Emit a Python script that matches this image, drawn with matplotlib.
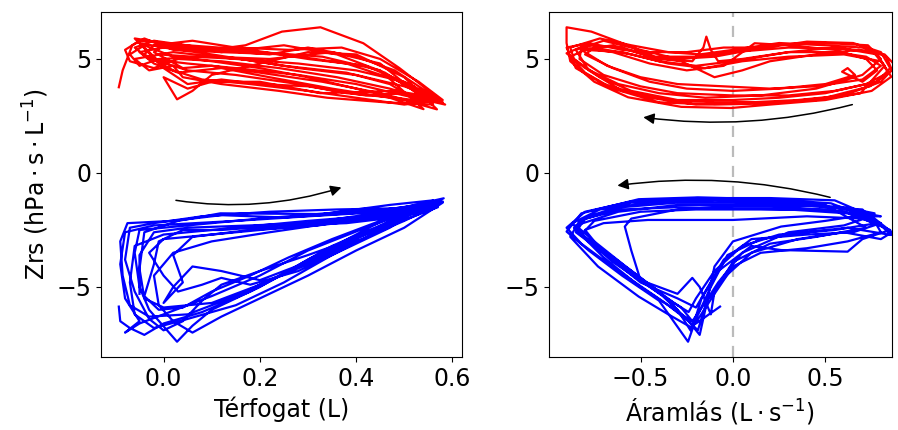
import matplotlib
matplotlib.use("Agg")
import matplotlib.pyplot as plt
import numpy as np

# ---- data (each breath = list of (x, Zrs)) ----
vol_red = [
    [(-0.093,3.76),(-0.085,4.5),(-0.065,5.6),(-0.04,5.9),(0.02,5.4),(0.12,5.3),(0.25,5.2),(0.38,4.8),(0.48,4.1),(0.585,3.0),(0.50,3.4),(0.40,3.9),(0.28,4.3),(0.15,4.6),(0.05,4.8),(-0.03,5.0)],
    [(-0.03,5.0),(-0.06,5.5),(-0.02,5.8),(0.08,5.5),(0.2,5.3),(0.33,5.1),(0.45,4.5),(0.54,2.8),(0.47,3.3),(0.35,3.7),(0.22,4.2),(0.12,4.6),(0.03,4.4),(-0.02,4.8)],
    [(-0.02,4.8),(-0.05,5.3),(0.0,5.5),(0.1,5.4),(0.17,5.6),(0.246,6.2),(0.326,6.39),(0.415,5.69),(0.49,4.6),(0.57,3.3),(0.48,3.6),(0.326,3.5),(0.2,4.0),(0.1,4.0),(0.05,3.7),(0.0,4.2)],
    [(0.0,4.2),(0.028,3.23),(0.06,3.6),(0.1,4.3),(0.2,4.8),(0.3,5.3),(0.4,5.2),(0.5,4.2),(0.568,2.79),(0.5,3.2),(0.4,3.7),(0.3,4.2),(0.2,4.6),(0.1,4.9),(0.02,5.1),(-0.04,5.6)],
    [(-0.04,5.6),(-0.07,5.2),(-0.05,4.7),(-0.01,5.0),(0.1,5.1),(0.22,5.0),(0.35,5.3),(0.45,4.8),(0.52,3.6),(0.56,3.1),(0.48,3.3),(0.38,3.5),(0.28,3.9),(0.15,4.3),(0.05,4.5),(-0.01,4.9)],
    [(-0.01,4.9),(-0.05,5.7),(0.0,5.5),(0.1,5.2),(0.25,4.7),(0.38,4.4),(0.47,3.9),(0.54,3.0),(0.45,3.5),(0.33,4.0),(0.2,4.4),(0.1,4.7),(0.04,4.6),(-0.02,5.3)],
    [(-0.02,5.3),(0.0,5.6),(0.1,5.4),(0.22,5.2),(0.3,5.5),(0.4,5.1),(0.48,4.5),(0.58,3.1),(0.5,3.5),(0.42,3.4),(0.3,3.8),(0.2,3.9),(0.12,4.1),(0.05,3.9),(0.0,4.6)],
    [(0.0,4.6),(-0.06,5.9),(0.0,5.7),(0.12,5.3),(0.25,5.6),(0.36,5.2),(0.46,4.4),(0.55,3.2),(0.47,3.7),(0.36,4.2),(0.24,4.6),(0.12,4.9),(0.03,5.0)],
    [(0.03,5.0),(-0.02,4.6),(-0.07,4.9),(-0.08,5.4),(-0.05,5.8),(0.05,5.6),(0.18,5.4),(0.3,5.0),(0.42,4.7),(0.52,3.8),(0.56,3.0),(0.46,3.1),(0.34,3.3),(0.24,3.6),(0.12,3.9),(0.04,4.2)],
    [(0.04,4.2),(0.02,4.7),(-0.03,4.5),(-0.06,5.0),(0.02,5.3),(0.15,5.0),(0.28,4.8),(0.4,4.5),(0.5,4.0),(0.575,3.2),(0.5,3.0),(0.4,3.3),(0.3,3.6),(0.18,3.9),(0.08,4.1),(0.02,4.5)],
    [(0.02,4.5),(-0.04,5.2),(-0.02,5.6),(0.06,5.8),(0.15,5.5),(0.26,5.4),(0.37,5.5),(0.45,5.0),(0.53,4.0),(0.58,3.2),(0.5,3.8),(0.4,4.3),(0.28,4.6),(0.16,5.0),(0.06,5.1),(-0.01,5.2)],
]

vol_blue = [
    [(-0.093,-5.86),(-0.09,-6.5),(-0.07,-6.8),(-0.04,-7.1),(0.0,-6.6),(0.08,-6.1),(0.18,-5.2),(0.28,-4.1),(0.38,-3.0),(0.47,-2.2),(0.582,-1.11),(0.5,-1.5),(0.4,-1.75),(0.25,-1.95),(0.12,-1.85),(0.02,-2.1),(-0.075,-2.2),(-0.09,-3.0),(-0.085,-4.5),(-0.07,-5.8)],
    [(-0.07,-5.8),(-0.03,-6.3),(0.05,-6.2),(0.15,-5.4),(0.25,-4.4),(0.35,-3.2),(0.45,-2.3),(0.55,-1.5),(0.45,-1.6),(0.35,-1.75),(0.2,-2.0),(0.05,-2.3),(-0.05,-2.5),(-0.06,-3.5),(-0.05,-5.0),(-0.03,-6.0)],
    [(-0.03,-6.0),(0.028,-7.4),(0.06,-6.7),(0.1,-6.0),(0.2,-5.0),(0.3,-3.8),(0.4,-2.7),(0.48,-1.8),(0.56,-1.2),(0.47,-1.4),(0.33,-1.8),(0.118,-1.77),(0.03,-2.1),(-0.04,-2.6),(-0.05,-4.2),(-0.04,-5.5)],
    [(-0.04,-5.5),(0.0,-5.9),(0.1,-5.7),(0.2,-4.9),(0.3,-4.0),(0.4,-3.0),(0.5,-2.1),(0.57,-1.4),(0.5,-1.7),(0.4,-2.0),(0.25,-2.4),(0.1,-2.7),(0.0,-2.9),(-0.03,-3.5),(0.0,-4.5),(0.03,-5.2)],
    [(0.03,-5.2),(0.08,-4.9),(0.12,-4.6),(0.18,-4.9),(0.28,-4.3),(0.38,-3.3),(0.47,-2.4),(0.53,-1.6),(0.45,-1.9),(0.35,-2.2),(0.22,-2.6),(0.1,-3.0),(0.02,-3.5),(-0.02,-4.5),(-0.01,-5.8),(0.02,-6.5)],
    [(0.02,-6.5),(0.06,-7.0),(0.12,-6.3),(0.2,-5.5),(0.3,-4.5),(0.4,-3.4),(0.5,-2.4),(0.58,-1.3),(0.52,-1.6),(0.42,-1.9),(0.3,-2.1),(0.15,-2.4),(0.0,-2.7),(-0.06,-3.2),(-0.07,-4.8),(-0.06,-6.2)],
    [(-0.06,-6.2),(-0.02,-6.8),(0.05,-6.4),(0.15,-5.8),(0.25,-4.8),(0.35,-3.6),(0.45,-2.5),(0.52,-1.7),(0.44,-2.0),(0.32,-2.3),(0.18,-2.5),(0.06,-2.8),(0.02,-3.6),(0.04,-4.8),(0.0,-5.7)],
    [(0.0,-5.7),(0.02,-5.0),(0.06,-4.1),(0.12,-4.3),(0.2,-4.7),(0.3,-3.9),(0.4,-2.9),(0.48,-2.0),(0.55,-1.4),(0.46,-1.7),(0.3,-1.9),(0.15,-2.1),(-0.02,-2.3),(-0.08,-2.6),(-0.09,-4.0),(-0.08,-5.5),(-0.05,-6.5)],
    [(-0.05,-6.5),(-0.08,-7.0),(-0.05,-6.6),(0.0,-6.2),(0.1,-5.4),(0.2,-4.5),(0.3,-3.4),(0.42,-2.4),(0.5,-1.8),(0.58,-1.25),(0.48,-1.55),(0.36,-1.6),(0.22,-1.7),(0.08,-1.9),(-0.02,-2.2),(-0.07,-2.4),(-0.08,-3.8),(-0.06,-5.2),(-0.03,-6.4)],
    [(-0.03,-6.4),(0.0,-6.9),(0.04,-6.5),(0.08,-5.6),(0.12,-4.9),(0.2,-4.3),(0.3,-3.6),(0.42,-2.7),(0.52,-1.9),(0.57,-1.5),(0.5,-1.9),(0.38,-2.2),(0.25,-2.3),(0.12,-2.5),(0.04,-2.5),(-0.01,-3.0),(-0.02,-4.0),(-0.04,-5.4)],
    [(-0.04,-5.4),(-0.01,-6.0),(0.04,-5.9),(0.1,-5.2),(0.18,-4.5),(0.26,-3.7),(0.35,-2.9),(0.45,-2.1),(0.54,-1.5),(0.43,-1.8),(0.3,-2.2),(0.18,-2.3),(0.05,-2.4),(-0.02,-2.6),(-0.05,-3.6),(-0.05,-4.6),(-0.05,-5.3)],
]

flow_red = [
    [(0.0,5.3),(0.3,5.5),(0.6,5.45),(0.78,5.2),(0.856,4.22),(0.75,3.6),(0.5,3.2),(0.2,3.0),(-0.01,2.85),(-0.28,2.9),(-0.567,3.32),(-0.75,4.0),(-0.88,4.9),(-0.9,5.7),(-0.9,6.39),(-0.766,6.2),(-0.6,5.7),(-0.42,5.1),(-0.2,5.1),(0.0,5.3)],
    [(0.0,5.3),(0.2,5.6),(0.5,5.7),(0.73,5.6),(0.8,5.0),(0.7,4.3),(0.45,3.7),(0.15,3.4),(-0.15,3.3),(-0.4,3.5),(-0.62,3.9),(-0.8,4.6),(-0.9,5.25),(-0.8,5.6),(-0.6,5.5),(-0.4,5.0),(-0.22,4.9),(-0.16,5.5),(-0.144,5.98),(-0.12,5.4),(-0.08,4.9),(0.05,5.0)],
    [(0.05,5.0),(0.3,5.3),(0.55,5.5),(0.76,5.3),(0.82,4.7),(0.69,3.5),(0.45,3.2),(0.2,3.1),(-0.1,3.1),(-0.35,3.2),(-0.6,3.6),(-0.78,4.5),(-0.85,5.4),(-0.7,5.8),(-0.5,5.4),(-0.3,5.0),(-0.1,5.1),(0.1,5.4)],
    [(0.1,5.4),(0.4,5.76),(0.65,5.7),(0.8,5.3),(0.85,4.6),(0.78,4.0),(0.55,3.6),(0.3,3.4),(0.0,3.4),(-0.3,3.5),(-0.5,3.8),(-0.7,4.3),(-0.83,5.0),(-0.82,5.5),(-0.65,5.3),(-0.45,4.8),(-0.25,4.5),(-0.05,4.7),(0.117,5.69),(0.3,5.6)],
    [(0.3,5.6),(0.55,5.4),(0.72,5.0),(0.78,4.5),(0.7,4.0),(0.59,4.44),(0.62,4.6),(0.66,4.3),(0.5,3.9),(0.25,3.7),(0.0,3.6),(-0.25,3.7),(-0.45,4.0),(-0.65,4.6),(-0.8,5.2),(-0.75,5.5),(-0.55,5.2),(-0.35,4.8),(-0.15,4.6),(0.05,4.9)],
    [(0.05,4.9),(0.3,5.1),(0.6,5.2),(0.8,4.9),(0.84,4.4),(0.72,3.9),(0.5,3.5),(0.25,3.3),(0.0,3.2),(-0.3,3.2),(-0.55,3.6),(-0.72,4.2),(-0.86,5.0),(-0.88,5.5),(-0.72,5.9),(-0.55,5.6),(-0.35,5.3),(-0.18,5.2),(0.0,5.4)],
    [(0.0,5.4),(0.25,5.7),(0.5,5.6),(0.7,5.5),(0.83,5.1),(0.86,4.5),(0.74,3.8),(0.5,3.3),(0.2,3.05),(-0.1,3.0),(-0.4,3.1),(-0.65,3.7),(-0.8,4.4),(-0.88,5.1),(-0.8,5.4),(-0.6,5.3),(-0.4,4.9),(-0.2,4.7),(0.0,4.9)],
    [(0.0,4.9),(0.3,5.3),(0.55,5.3),(0.72,5.1),(0.8,4.7),(0.7,4.1),(0.45,3.8),(0.2,3.7),(-0.05,3.8),(-0.3,3.9),(-0.5,4.2),(-0.68,4.7),(-0.82,5.4),(-0.65,5.6),(-0.45,5.1),(-0.28,4.9),(-0.1,4.2),(0.05,4.5),(0.2,4.9)],
    [(0.2,4.9),(0.45,5.2),(0.68,5.4),(0.82,5.2),(0.88,4.7),(0.8,4.0),(0.6,3.4),(0.35,3.2),(0.1,3.1),(-0.2,3.0),(-0.45,3.3),(-0.7,3.9),(-0.85,4.6),(-0.9,5.5),(-0.78,5.7),(-0.6,5.4),(-0.45,5.3),(-0.25,5.3),(-0.05,5.5),(0.1,5.5)],
]

flow_blue = [
    [(0.75,-2.0),(0.53,-1.33),(0.2,-1.15),(-0.19,-1.07),(-0.51,-1.15),(-0.82,-1.77),(-0.9,-2.57),(-0.78,-3.4),(-0.6,-4.5),(-0.4,-5.6),(-0.243,-7.4),(-0.2,-6.4),(-0.12,-5.0),(-0.03,-3.6),(0.15,-2.9),(0.4,-2.6),(0.62,-2.4),(0.856,-2.72),(0.8,-2.3)],
    [(0.8,-2.3),(0.62,-1.77),(0.3,-1.6),(0.0,-1.55),(-0.3,-1.5),(-0.6,-1.6),(-0.8,-2.0),(-0.85,-2.6),(-0.75,-3.2),(-0.55,-4.4),(-0.38,-5.4),(-0.25,-6.4),(-0.18,-7.1),(-0.15,-6.0),(-0.1,-4.1),(0.0,-3.0),(0.26,-2.35),(0.5,-2.1),(0.766,-1.77)],
    [(0.766,-1.77),(0.6,-1.5),(0.3,-1.35),(0.0,-1.3),(-0.3,-1.3),(-0.6,-1.5),(-0.83,-2.1),(-0.88,-2.8),(-0.73,-4.1),(-0.51,-5.42),(-0.35,-6.2),(-0.22,-6.8),(-0.17,-5.5),(-0.08,-4.3),(0.1,-3.2),(0.26,-3.38),(0.62,-3.45),(0.7,-2.9),(0.85,-2.5)],
    [(0.85,-2.5),(0.7,-2.0),(0.4,-1.9),(0.0,-2.06),(-0.46,-2.06),(-0.7,-2.2),(-0.8,-2.5),(-0.7,-3.5),(-0.5,-4.8),(-0.3,-5.5),(-0.2,-5.9),(-0.15,-5.2),(-0.05,-3.8),(0.1,-2.9),(0.4,-2.7),(0.65,-2.6),(0.8,-2.2)],
    [(0.8,-2.2),(0.6,-1.7),(0.3,-1.5),(0.0,-1.45),(-0.3,-1.6),(-0.55,-2.0),(-0.585,-2.35),(-0.55,-3.4),(-0.5,-4.7),(-0.4,-5.0),(-0.3,-5.3),(-0.22,-4.6),(-0.18,-5.0),(-0.12,-6.2),(-0.1,-5.2),(0.0,-3.9),(0.2,-3.1),(0.45,-2.8),(0.72,-2.4)],
    [(0.72,-2.4),(0.5,-1.4),(0.2,-1.2),(-0.2,-1.15),(-0.55,-1.3),(-0.78,-1.9),(-0.86,-2.4),(-0.7,-3.7),(-0.5,-5.0),(-0.35,-5.8),(-0.24,-6.5),(-0.19,-6.9),(-0.14,-5.6),(-0.05,-4.6),(0.1,-3.5),(0.35,-2.9),(0.6,-2.6),(0.8,-2.9),(0.86,-2.6)],
    [(0.86,-2.6),(0.75,-1.9),(0.5,-1.6),(0.15,-1.6),(-0.2,-1.6),(-0.5,-1.7),(-0.75,-2.1),(-0.82,-2.7),(-0.65,-3.9),(-0.45,-5.0),(-0.28,-5.9),(-0.22,-6.5),(-0.16,-5.8),(-0.08,-4.8),(0.05,-3.5),(0.3,-2.6),(0.6,-2.3),(0.75,-1.9)],
    [(0.8,-1.9),(0.6,-1.6),(0.3,-1.25),(-0.1,-1.2),(-0.45,-1.3),(-0.72,-1.6),(-0.87,-2.2),(-0.8,-2.8),(-0.63,-3.8),(-0.45,-4.9),(-0.32,-5.7),(-0.24,-6.1),(-0.2,-5.5),(-0.1,-4.3),(0.05,-3.2),(0.25,-2.7),(0.55,-2.5),(0.78,-2.2)],
    [(0.78,-2.2),(0.7,-1.6),(0.4,-1.45),(0.05,-1.4),(-0.3,-1.4),(-0.62,-1.7),(-0.85,-2.3),(-0.75,-3.0),(-0.58,-4.1),(-0.4,-5.2),(-0.3,-6.0),(-0.23,-6.9),(-0.18,-6.3),(-0.1,-5.3),(0.0,-4.1),(0.15,-3.5),(0.4,-3.3),(0.62,-3.0),(0.8,-2.6)],
    [(0.75,-1.9),(0.55,-1.2),(0.2,-1.1),(-0.2,-1.1),(-0.55,-1.25),(-0.8,-1.7),(-0.9,-2.4),(-0.82,-3.1),(-0.62,-4.3),(-0.42,-5.4),(-0.28,-6.2),(-0.2,-6.6),(-0.13,-6.2),(-0.07,-5.86)],
]

vol_ticks = [0.0, 0.2, 0.4, 0.6]
flow_ticks = [-0.5, 0.0, 0.5]
z_ticks = [-5, 0, 5]
xlabel_left = "Térfogat (L)"
xlabel_right = r"Áramlás ($\mathregular{L\cdot s^{-1}}$)"
ylabel = r"Zrs ($\mathregular{hPa\cdot s\cdot L^{-1}}$)"


def trace(breaths):
    pts = np.array([p for b in breaths for p in b])
    return pts[:, 0], pts[:, 1]


fig = plt.figure(figsize=(8.98, 4.30), dpi=100)
ax1 = fig.add_axes([101/898, 73/430, 361/898, 345/430])
ax2 = fig.add_axes([549/898, 73/430, 343/898, 345/430])

FS = 17
lw = 1.6

x, y = trace(vol_red)
ax1.plot(x, y, color="red", lw=lw)
x, y = trace(vol_blue)
ax1.plot(x, y, color="blue", lw=lw)
ax1.annotate("", xy=(0.375, -0.6), xytext=(0.02, -1.18),
             arrowprops=dict(arrowstyle="-|>", color="black", lw=1.1,
                             mutation_scale=16,
                             connectionstyle="arc3,rad=0.12"))
ax1.set_xlim(-0.13, 0.62)
ax1.set_ylim(-8.07, 7.06)
ax1.set_xticks(vol_ticks)
ax1.set_yticks(z_ticks)
ax1.set_xlabel(xlabel_left, fontsize=FS)
ax1.set_ylabel(ylabel, fontsize=FS)

ax2.axvline(0, color="#bbbbbb", ls=(0, (5, 4)), lw=1.6, zorder=0)
x, y = trace(flow_red)
ax2.plot(x, y, color="red", lw=lw)
x, y = trace(flow_blue)
ax2.plot(x, y, color="blue", lw=lw)
ax2.annotate("", xy=(-0.5, 2.46), xytext=(0.66, 3.03),
             arrowprops=dict(arrowstyle="-|>", color="black", lw=1.1,
                             mutation_scale=16,
                             connectionstyle="arc3,rad=-0.1"))
ax2.annotate("", xy=(-0.64, -0.57), xytext=(0.54, -1.10),
             arrowprops=dict(arrowstyle="-|>", color="black", lw=1.1,
                             mutation_scale=16,
                             connectionstyle="arc3,rad=0.1"))
ax2.set_xlim(-0.995, 0.86)
ax2.set_ylim(-8.07, 7.06)
ax2.set_xticks(flow_ticks)
ax2.set_yticks(z_ticks)
ax2.set_xlabel(xlabel_right, fontsize=FS)

for ax in (ax1, ax2):
    ax.tick_params(labelsize=FS)

fig.savefig("out.png", dpi=100)
